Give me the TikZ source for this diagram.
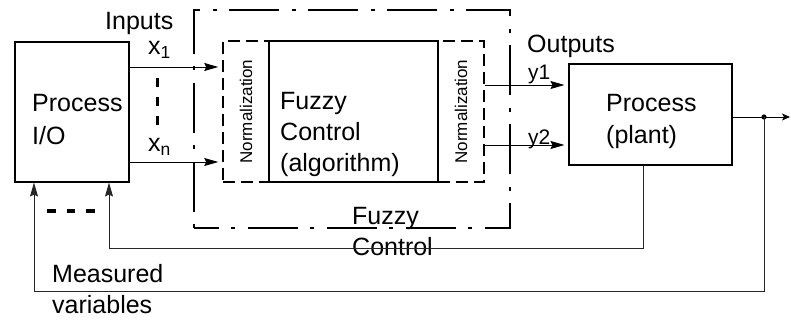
\documentclass[tikz,border=0pt]{standalone}
\usepackage{fontspec}
\setmainfont{Liberation Sans}
\usetikzlibrary{arrows.meta}
\begin{document}
\begin{tikzpicture}[x=1pt,y=-1pt,
  txt/.style={anchor=base west, inner sep=0pt, font=\fontsize{25}{30}\selectfont},
  sm/.style={anchor=base west, inner sep=0pt, font=\fontsize{21}{25}\selectfont},
  normtxt/.style={rotate=90, inner sep=0pt, font=\fontsize{17}{20}\selectfont},
  solidbox/.style={draw, line width=1.1pt, inner sep=0pt},
  algbox/.style={draw, line width=1.6pt, inner sep=0pt},
  normbox/.style={draw, line width=1.5pt, dash pattern=on 12pt off 6pt, inner sep=0pt},
  outerbox/.style={draw, line width=1.4pt, dash pattern=on 50pt off 12pt on 4pt off 13pt, dash phase=25pt, inner sep=0pt},
  arr/.style={line width=0.9pt, -{Stealth[length=14pt, width=8pt, inset=2pt]}},
  fb/.style={line width=0.9pt, draw=black!85},
  thickdash/.style={line width=3pt, dash pattern=on 9pt off 10pt},
]
\useasboundingbox (0,0) rectangle (791,320);

% boxes
\node[solidbox, minimum width=114pt, minimum height=140pt] (pio) at (72,112) {};
\node[outerbox, minimum width=316pt, minimum height=218pt] (fc) at (352,119) {};
\node[normbox, minimum width=46pt, minimum height=141pt] (nl) at (246,111.5) {};
\node[normbox, minimum width=46pt, minimum height=141pt] (nr) at (461,111.5) {};
\node[algbox, minimum width=169pt, minimum height=141pt] (alg) at (353.5,111.5) {};
\node[solidbox, minimum width=163pt, minimum height=101pt] (plant) at (650.5,114.5) {};

% texts
\node[txt] (tproc1) at (32,112) {Process};
\node[txt] (tproc2) at (32,145) {I/O};
\node[txt] (tinputs) at (105,30) {Inputs};
\node[txt] (tx1) at (148,55) {x\textsubscript{1}};
\node[txt] (txn) at (148,152) {x\textsubscript{n}};
\node[normtxt] (tnl) at (nl.center) {Normalization};
\node[normtxt] (tnr) at (nr.center) {Normalization};
\node[txt] (talg1) at (280,110) {Fuzzy};
\node[txt] (talg2) at (280,141) {Control};
\node[txt] (talg3) at (280,172) {(algorithm)};
\node[txt] (tfc1) at (352,224) {Fuzzy};
\node[txt] (tfc2) at (352,255) {Control};
\node[txt] (toutputs) at (527,53) {Outputs};
\node[sm] (ty1) at (528,80) {y1};
\node[sm] (ty2) at (528,145) {y2};
\node[txt] (tplant1) at (606,112) {Process};
\node[txt] (tplant2) at (606,144) {(plant)};
\node[txt] (tmeas1) at (52,282) {Measured};
\node[txt] (tmeas2) at (52,313) {variables};

% inputs
\draw[arr, shorten >=4pt] (pio.east |- 0,67) -- (nl.west |- 0,67);
\draw[arr, shorten >=4pt] (pio.east |- 0,162) -- (nl.west |- 0,162);
\draw[thickdash] (157,78) -- (157,128);

% outputs
\draw[arr, shorten >=4pt] (nr.east |- 0,85) -- (plant.west |- 0,85);
\draw[arr, shorten >=4pt] (nr.east |- 0,145) -- (plant.west |- 0,145);

% process output
\coordinate (dot) at (764,117);
\coordinate (outend) at (790,117);
\draw[line width=0.9pt, -{Stealth[length=8pt, width=7pt, inset=2pt]}] (plant.east |- dot) -- (outend);
\fill (dot) circle (2.6pt);

% feedback lines
\coordinate (f1a) at (643,248);
\coordinate (f1b) at (109,248);
\draw[fb, arr] (plant.south -| f1a) -- (f1a) -- (f1b) -- (pio.south -| f1b);
\coordinate (f2a) at (764,291);
\coordinate (f2b) at (34,291);
\draw[fb, arr] (dot) -- (f2a) -- (f2b) -- (pio.south -| f2b);
\draw[line width=3pt, dash pattern=on 8.5pt off 11pt] (47,211) -- (97,211);
\end{tikzpicture}
\end{document}
